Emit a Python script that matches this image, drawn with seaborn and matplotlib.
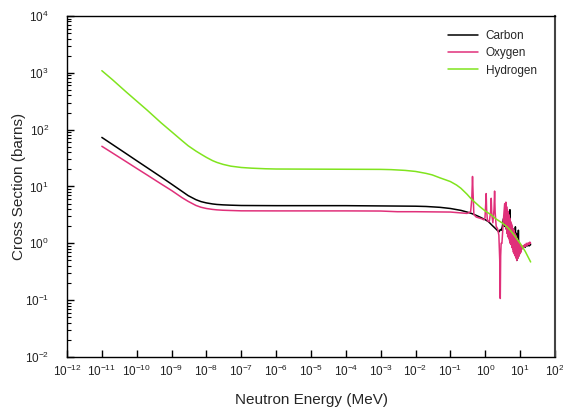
import matplotlib
matplotlib.use("Agg")
import matplotlib.pyplot as plt
import numpy as np
import pandas as pd
import seaborn as sns
from matplotlib.ticker import NullLocator, FixedLocator, LogFormatterSciNotation, NullFormatter

# ---------------- data ----------------
elements = ["Carbon", "Oxygen", "Hydrogen"]
colors = ["#000000", "#E0307A", "#80E41E"]

carbon_E = [1e-11, 2e-11, 5e-11, 1e-10, 2e-10, 5e-10, 1e-9, 2e-9, 3e-9, 5e-9, 7e-9,
            1e-8, 1.5e-8, 2e-8, 3e-8, 5e-8, 1e-7, 1e-6, 1e-5, 1e-4, 1e-3, 1e-2,
            2e-2, 5e-2, 0.1, 0.2, 0.3, 0.4, 0.55, 0.7, 1.0, 1.24, 1.6, 2.0, 2.3,
            2.5, 2.7, 2.9, 3.1, 3.3, 3.5, 3.7, 3.9, 4.1, 4.3, 4.5, 4.8, 5.1, 5.3,
            5.6, 5.9, 6.2, 6.5, 6.8, 7.1, 7.3, 7.5, 7.8, 8.0, 8.3, 8.6, 8.9, 9.2,
            9.6, 10.0, 10.5, 11.0, 12.0, 13.0, 14.0, 15.0, 16.0, 17.0, 18.0, 20.0]
carbon_xs = [73, 55, 37.8, 28.4, 21.4, 14.7, 11.0, 8.2, 6.9, 5.86, 5.42,
             5.14, 4.93, 4.83, 4.75, 4.69, 4.63, 4.6, 4.6, 4.6, 4.55, 4.5,
             4.45, 4.3, 4.1, 3.8, 3.55, 3.36, 3.1, 2.9, 2.6, 2.4, 2.05, 1.8, 1.65,
             1.6, 1.75, 1.7, 2.0, 2.7, 2.0, 2.3, 1.8, 2.6, 1.7, 2.2, 1.6, 3.9, 1.5,
             2.0, 1.3, 1.8, 1.1, 1.6, 0.9, 1.95, 0.7, 1.5, 0.5, 1.2, 0.55, 1.7, 0.6,
             1.0, 0.75, 0.9, 0.8, 0.85, 0.9, 0.85, 0.95, 0.9, 0.95, 0.9, 0.95]

oxygen_E = [1e-11, 2e-11, 5e-11, 1e-10, 2e-10, 5e-10, 1e-9, 2e-9, 3e-9, 5e-9, 7e-9,
            1e-8, 1.5e-8, 2e-8, 3e-8, 5e-8, 1e-7, 1e-6, 1e-5, 1e-4, 1e-3, 3e-3,
            1e-2, 0.1, 0.3, 0.38, 0.41, 0.43, 0.445, 0.47, 0.55,
            0.8, 0.9, 0.98, 1.03, 1.06, 1.09, 1.15, 1.3, 1.42, 1.48, 1.54, 1.65,
            1.78, 1.85, 1.92, 2.05, 2.25, 2.45, 2.6, 2.69, 2.76, 2.85, 3.0, 3.3,
            3.6, 3.75, 3.9,
            4.0, 4.1, 4.2, 4.3, 4.4, 4.5, 4.6, 4.7, 4.8, 4.9, 5.0, 5.1, 5.2, 5.35,
            5.5, 5.65, 5.8, 5.95, 6.1, 6.25, 6.4, 6.6, 6.8, 7.0, 7.2, 7.4, 7.6,
            7.8, 8.0, 8.3, 8.6, 8.9, 9.2, 9.5, 9.8, 10.2, 10.6, 11.0, 11.5, 12.0,
            12.7, 13.4, 14.2, 15.0, 16.0, 17.0, 18.0, 19.0, 20.0]
oxygen_xs = [51, 39, 27.3, 20.8, 15.9, 11.1, 8.5, 6.36, 5.47, 4.64, 4.31,
             4.10, 3.95, 3.88, 3.82, 3.78, 3.73, 3.72, 3.72, 3.72, 3.70, 3.6,
             3.6, 3.55, 3.36, 3.6, 6.0, 15.0, 8.0, 3.2, 2.9,
             2.7, 2.6, 2.8, 5.0, 7.5, 4.0, 2.5, 2.4, 3.5, 6.2, 3.2, 2.3,
             4.0, 8.3, 3.5, 2.0, 1.8, 1.4, 0.5, 0.107, 0.6, 1.0, 1.0, 2.5,
             5.0, 2.2, 5.3,
             1.8, 4.4, 1.5, 3.9, 1.3, 3.6, 1.6, 3.2, 1.2, 2.9, 1.1, 2.7, 1.0, 2.4,
             0.95, 2.2, 0.85, 2.0, 0.8, 1.8, 0.7, 1.7, 0.65, 1.5, 0.6, 1.4, 0.55,
             1.3, 0.5, 1.2, 0.55, 1.1, 0.6, 1.0, 0.65, 0.95, 0.7, 0.9, 0.8, 0.9,
             0.85, 0.95, 0.88, 1.0, 0.92, 1.02, 0.95, 1.05, 1.0]

hydrogen_E = [1e-11, 2e-11, 5e-11, 1e-10, 2e-10, 5e-10, 1e-9, 2e-9, 3e-9, 5e-9, 7e-9,
              1e-8, 1.5e-8, 2e-8, 3e-8, 5e-8, 1e-7, 2e-7, 5e-7, 1e-6, 1e-5, 1e-4,
              1e-3, 2e-3, 5e-3, 1e-2, 2e-2, 3e-2, 5e-2, 7e-2, 0.1, 0.15, 0.2, 0.3,
              0.4, 0.5, 0.7, 1.0, 1.5, 2.0, 3.0, 4.0, 5.0, 7.0, 10.0, 14.0, 20.0]
hydrogen_xs = [1090, 760, 460, 318, 220, 132, 92, 64, 52, 42, 37,
               32.5, 28.5, 26.5, 24.5, 22.8, 21.6, 21, 20.5, 20.3, 20.2, 20.1,
               20.0, 19.8, 19.2, 18.4, 17.0, 16.0, 14.2, 13.2, 12.2, 10.6, 9.3, 7.3,
               6.0, 5.3, 4.4, 3.7, 3.15, 2.7, 2.3, 2.0, 1.75, 1.35, 1.0, 0.72, 0.47]

x_ticks = [10.0 ** k for k in range(-12, 3)]
y_ticks = [10.0 ** k for k in range(-2, 5)]
y_minor = [m * 10.0 ** k for k in range(-2, 4) for m in range(2, 10)]

frames = []
for name, E, xs in [("Carbon", carbon_E, carbon_xs),
                    ("Oxygen", oxygen_E, oxygen_xs),
                    ("Hydrogen", hydrogen_E, hydrogen_xs)]:
    frames.append(pd.DataFrame({"E": E, "xs": xs, "Element": name}))
df = pd.concat(frames, ignore_index=True)

# ---------------- style ----------------
sns.set_theme(style="white")
plt.rcParams["font.family"] = ["Liberation Sans", "DejaVu Sans"]
plt.rcParams["mathtext.fontset"] = "custom"
plt.rcParams["mathtext.rm"] = "Liberation Sans"
plt.rcParams["mathtext.it"] = "Liberation Sans:italic"
plt.rcParams["mathtext.bf"] = "Liberation Sans:bold"

fig = plt.figure(figsize=(5.63, 4.12), dpi=100)
ax = fig.add_axes([0.119, 0.1335, 0.8668, 0.8277])

sns.lineplot(data=df, x="E", y="xs", hue="Element", hue_order=elements,
             palette=colors, estimator=None, sort=False, linewidth=1.1, ax=ax)

ax.set_xscale("log")
ax.set_yscale("log")
ax.set_xlim(1e-12, 1e2)
ax.set_ylim(1e-2, 1e4)

ax.xaxis.set_major_locator(FixedLocator(x_ticks))
ax.xaxis.set_major_formatter(LogFormatterSciNotation())
ax.xaxis.set_minor_locator(NullLocator())
ax.yaxis.set_major_locator(FixedLocator(y_ticks))
ax.yaxis.set_major_formatter(LogFormatterSciNotation())
ax.yaxis.set_minor_locator(FixedLocator(y_minor))
ax.yaxis.set_minor_formatter(NullFormatter())

ax.tick_params(axis="x", which="major", direction="in", length=5, width=1,
               color="black", labelsize=8.5, pad=5, bottom=True, top=False,
               labelcolor="#222222")
ax.tick_params(axis="y", which="major", direction="in", length=5, width=1,
               color="black", labelsize=8.5, pad=13, left=True, right=False,
               labelcolor="#222222")
ax.tick_params(axis="y", which="minor", direction="in", length=3, width=0.8,
               color="black", left=True, right=False)

for s in ["left", "bottom", "top"]:
    ax.spines[s].set_color("black")
    ax.spines[s].set_linewidth(1.0)
ax.spines["right"].set_color("#444444")
ax.spines["right"].set_linewidth(1.5)

ax.set_xlabel("Neutron Energy (MeV)", fontsize=11)
ax.set_ylabel("Cross Section (barns)", fontsize=11)
ax.xaxis.set_label_coords(0.5, -0.105)
ax.yaxis.set_label_coords(-0.085, 0.5)

handles, labels = ax.get_legend_handles_labels()
ax.legend(handles, labels, frameon=False, loc="upper left",
          bbox_to_anchor=(448 / 563, 1 - 30 / 412), bbox_transform=fig.transFigure,
          borderpad=0, borderaxespad=0, fontsize=8.5, handlelength=2.5,
          handletextpad=0.7, labelspacing=0.45)

fig.savefig("out.png", dpi=100)
